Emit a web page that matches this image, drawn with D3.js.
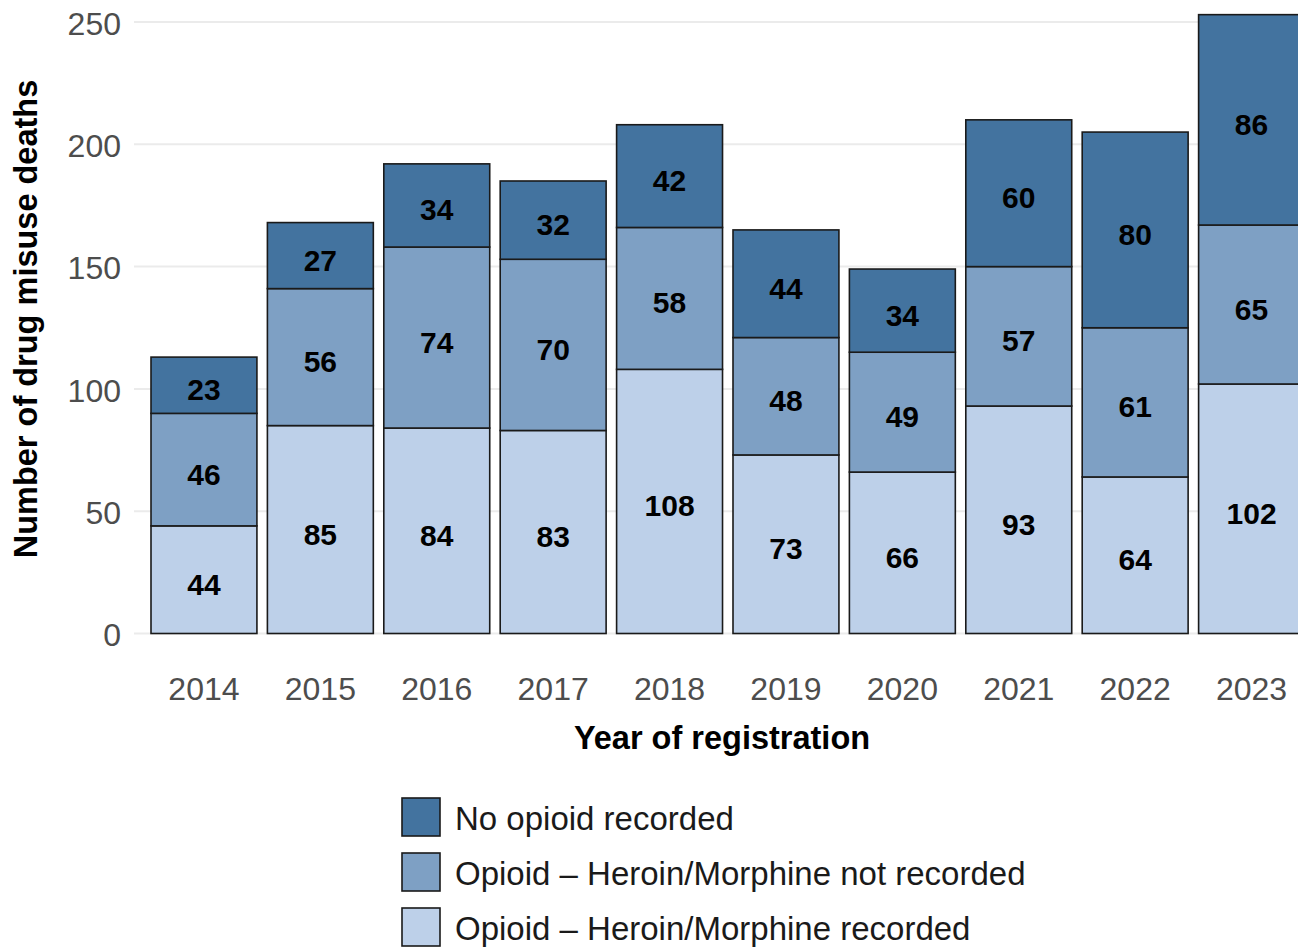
<!DOCTYPE html>
<html>
<head>
<meta charset="utf-8">
<script src="https://cdn.jsdelivr.net/npm/d3@7"></script>
<style>
html,body{margin:0;padding:0;background:#fff;overflow:hidden;}
svg{display:block;font-family:"Liberation Sans",Arial,sans-serif;}
</style>
</head>
<body>
<svg id="chart" width="1298" height="947"></svg>
<script>
const years = ["2014","2015","2016","2017","2018","2019","2020","2021","2022","2023"];
const heroinRecorded = [44,85,84,83,108,73,66,93,64,102];
const heroinNotRecorded = [46,56,74,70,58,48,49,57,61,65];
const noOpioid = [23,27,34,32,42,44,34,60,80,86];
const seriesNames = ["Opioid \u2013 Heroin/Morphine recorded","Opioid \u2013 Heroin/Morphine not recorded","No opioid recorded"];
const legendOrder = ["No opioid recorded","Opioid \u2013 Heroin/Morphine not recorded","Opioid \u2013 Heroin/Morphine recorded"];
const yTicks = [0,50,100,150,200,250];
const colors = {"No opioid recorded":"#43739f","Opioid \u2013 Heroin/Morphine not recorded":"#7ea0c4","Opioid \u2013 Heroin/Morphine recorded":"#bdd0e9"};

const svg = d3.select("#chart");
const rows = years.map((y,i)=>({year:y,
  [seriesNames[0]]:heroinRecorded[i],
  [seriesNames[1]]:heroinNotRecorded[i],
  [seriesNames[2]]:noOpioid[i]}));
const stack = d3.stack().keys(seriesNames)(rows);

const y = d3.scaleLinear().domain([0,250]).range([633.5,22]);
const step = 116.4, pi = 0.09, po = 0.045;
const L = 151 - po*step;
const x = d3.scaleBand().domain(years).range([L, L + step*(years.length - pi + 2*po)]).paddingInner(pi).paddingOuter(po);

// gridlines
svg.append("g").selectAll("line").data(yTicks).join("line")
  .attr("x1",134).attr("x2",1298)
  .attr("y1",d=>y(d)).attr("y2",d=>y(d))
  .attr("stroke","#ebebeb").attr("stroke-width",2);

// y tick labels
svg.append("g").selectAll("text").data(yTicks).join("text")
  .attr("x",121).attr("y",d=>y(d)).attr("dy","0.4em")
  .attr("text-anchor","end").attr("font-size",32).attr("fill","#4d4d4d")
  .text(d=>d);

// x tick labels
svg.append("g").selectAll("text").data(years).join("text")
  .attr("x",d=>x(d)+x.bandwidth()/2).attr("y",700)
  .attr("text-anchor","middle").attr("font-size",32).attr("fill","#4d4d4d")
  .text(d=>d);

// bars
const layers = svg.append("g").selectAll("g").data(stack).join("g")
  .attr("fill",d=>colors[d.key]);
layers.selectAll("rect").data(d=>d).join("rect")
  .attr("x",d=>x(d.data.year)).attr("width",x.bandwidth())
  .attr("y",d=>y(d[1])).attr("height",d=>y(d[0])-y(d[1]))
  .attr("stroke","#1a1a1a").attr("stroke-width",1.6);

// labels
const lab = svg.append("g");
stack.forEach(layer=>{
  lab.selectAll(null).data(layer).join("text")
    .attr("x",d=>x(d.data.year)+x.bandwidth()/2)
    .attr("y",d=>y((d[0]+d[1])/2)).attr("dy","0.5em")
    .attr("text-anchor","middle").attr("font-size",30).attr("font-weight","bold").attr("fill","#000")
    .text(d=>d[1]-d[0]);
});

// axis titles
svg.append("text").attr("x",722).attr("y",749).attr("text-anchor","middle")
  .attr("font-size",32.5).attr("font-weight","bold").attr("fill","#000")
  .text("Year of registration");
svg.append("text").attr("transform","translate(37,319) rotate(-90)").attr("text-anchor","middle")
  .attr("font-size",32.5).attr("font-weight","bold").attr("fill","#000")
  .text("Number of drug misuse deaths");

// legend
const lg = svg.append("g").selectAll("g").data(legendOrder).join("g")
  .attr("transform",(d,i)=>`translate(401,${797+i*55})`);
lg.append("rect").attr("x",1).attr("y",1).attr("width",38).attr("height",38)
  .attr("fill",d=>colors[d]).attr("stroke","#1a1a1a").attr("stroke-width",1.6);
lg.append("text").attr("x",54).attr("y",20).attr("dy","0.38em")
  .attr("font-size",33).attr("fill","#1a1a1a").text(d=>d);
</script>
</body>
</html>
